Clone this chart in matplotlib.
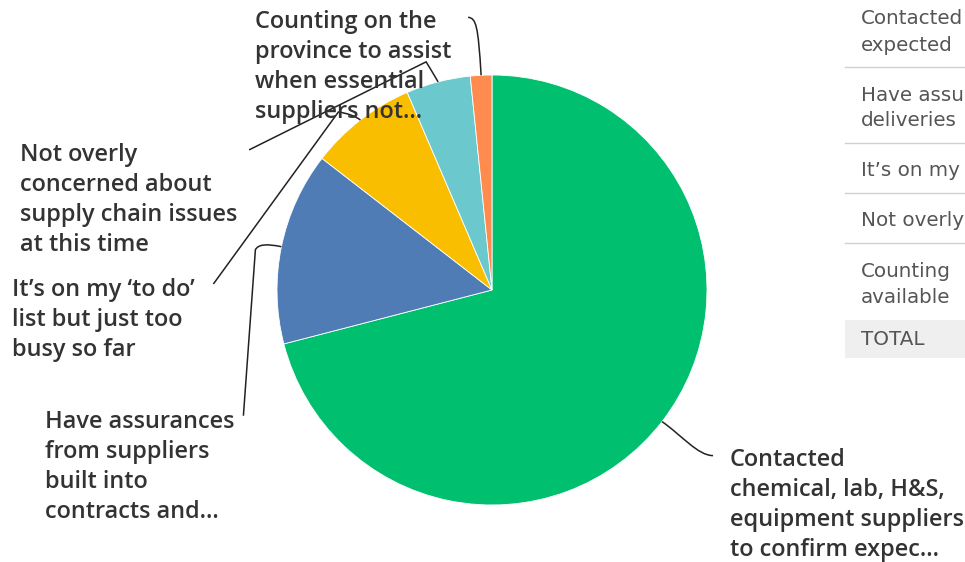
import matplotlib
matplotlib.use("Agg")
import matplotlib.pyplot as plt
from matplotlib.path import Path
from matplotlib.patches import PathPatch
import numpy as np

# survey answers, in pie order (clockwise from 12 o'clock)
answers = [
    "Contacted\nchemical, lab, H&S,\nequipment suppliers\nto confirm expec...",
    "Have assurances\nfrom suppliers\nbuilt into\ncontracts and...",
    "It\u2019s on my \u2018to do\u2019\nlist but just too\nbusy so far",
    "Not overly\nconcerned about\nsupply chain issues\nat this time",
    "Counting on the\nprovince to assist\nwhen essential\nsuppliers not...",
]
counts = [44, 9, 5, 3, 1]
colors = ["#00BF6F", "#507CB6", "#F9BE00", "#6BC8CD", "#FF8B4F"]

# table at the right, only the part that shows before the edge
table_lines = ["Contacted", "expected", "Have assu", "deliveries",
               "It\u2019s on my", "Not overly", "Counting", "available"]
table_y = [18, 45, 95, 120, 170, 220, 271, 297]
rule_y = [67, 143, 193, 243]

W, H = 965, 562
CX, CY, R = 492, 290, 215   # pie centre / radius in image pixels
PITCH = 30.3                # label line pitch in pixels


def px(x, y):
    return (x - CX) / R, (CY - y) / R


fig = plt.figure(figsize=(W / 100, H / 100), dpi=100)
ax = fig.add_axes([0, 0, 1, 1])

wedges, _ = ax.pie(counts, colors=colors, startangle=90, counterclock=False,
                   radius=1, center=(0, 0), frame=True,
                   wedgeprops=dict(edgecolor="white", linewidth=0.6))
ax.set_xlim(-CX / R, (W - CX) / R)
ax.set_ylim(-(H - CY) / R, CY / R)
ax.axis("off")

# label positions (left edge, first line centre) and leader routes in pixels
label_pos = [(730, 458), (45, 420), (12, 288), (20, 153), (255, 20)]
routes = [
    [(20, 14), (36, 34), (51, 34)],
    [(-22, -5), (-26, 3), (-38, 169)],
    [(-8, -6), (-22, -8), (-147, 164)],
    [(-10, -17), (-12, -20), (-189, 68)],
    [(-3, -50), (-5, -57), (-13, -58)],
]
curve_then_line = [False, True, True, True, False]
font = dict(family="Open Sans", weight=600, fontsize=16.9, color="#333333")

for w, txt, (lx, ly), rt, cl in zip(wedges, answers, label_pos, routes,
                                    curve_then_line):
    mid = np.deg2rad((w.theta1 + w.theta2) / 2)
    sx = CX + R * np.cos(mid)
    sy = CY - R * np.sin(mid)
    pts = [(sx, sy)] + [(sx + dx, sy + dy) for dx, dy in rt]
    verts = [px(*p) for p in pts]
    if cl:
        codes = [Path.MOVETO, Path.CURVE3, Path.CURVE3, Path.LINETO]
    else:
        codes = [Path.MOVETO, Path.CURVE4, Path.CURVE4, Path.CURVE4]
    ax.add_patch(PathPatch(Path(verts, codes), fill=False, edgecolor="#222222",
                           linewidth=1.1))
    nl = txt.count("\n")
    ax.text(*px(lx, ly + 7 + nl * PITCH), txt, ha="left", va="baseline",
            linespacing=1.33, **font)

# right hand table
tfont = dict(family="DejaVu Sans", fontsize=14.3, color="#555555")
for txt, y in zip(table_lines, table_y):
    ax.text(*px(861, y), txt, ha="left", va="center", **tfont)
for y in rule_y:
    ax.plot(*zip(px(845, y), px(W, y)), color="#d0d0d0", lw=1)
ax.add_patch(plt.Rectangle(px(845, 358), (W - 845) / R, 38 / R,
                           facecolor="#efefef", edgecolor="none"))
ax.text(*px(861, 339), "TOTAL", ha="left", va="center", **tfont)

fig.savefig("out.png", dpi=100)
